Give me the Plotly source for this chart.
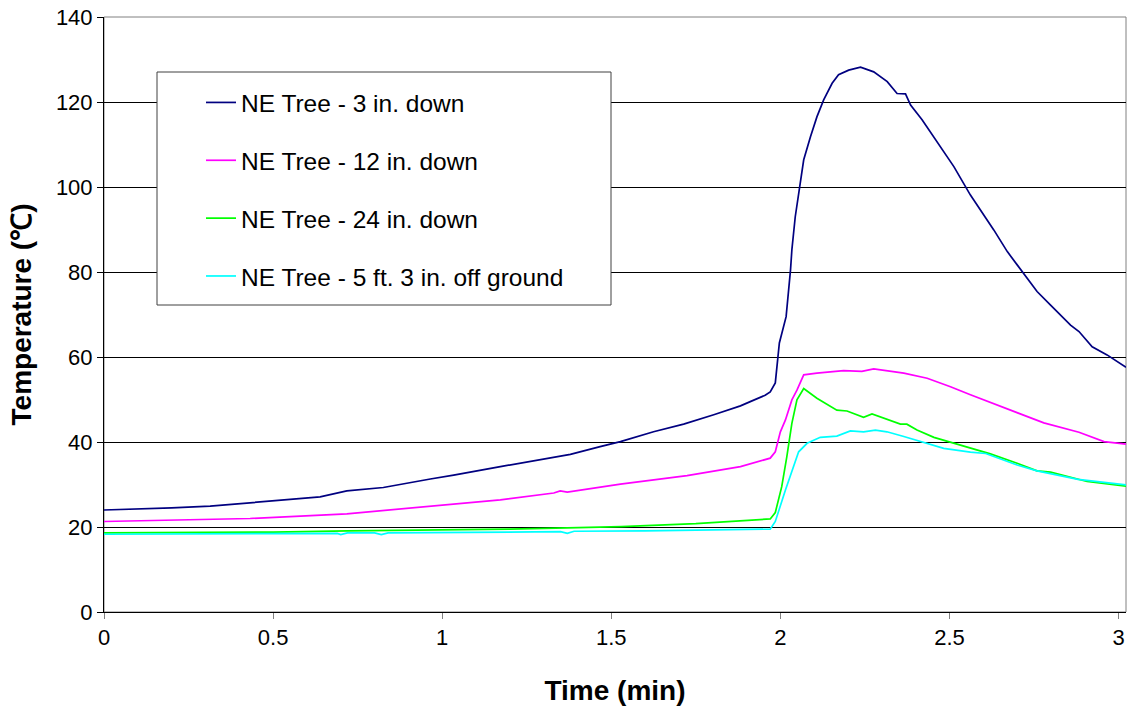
import plotly.graph_objects as go

# ---- data ----
t_3in = [0, 0.10, 0.2, 0.314, 0.4, 0.5, 0.639, 0.718, 0.826, 0.965, 1.034, 1.172, 1.31, 1.379,
         1.467, 1.527, 1.625, 1.714, 1.803, 1.882, 1.911, 1.955, 1.970, 1.985, 1.997, 2.017,
         2.03, 2.034, 2.044, 2.057, 2.069, 2.089, 2.108, 2.128, 2.153, 2.172, 2.202, 2.237,
         2.276, 2.316, 2.345, 2.37, 2.385, 2.419, 2.454, 2.493, 2.513, 2.562, 2.631, 2.671,
         2.715, 2.759, 2.799, 2.858, 2.883, 2.922, 2.966, 3.022]
v_3in = [24.0, 24.2, 24.5, 24.9, 25.5, 26.2, 27.1, 28.5, 29.3, 31.3, 32.2, 34.2, 36.2, 37.1,
         38.9, 40.1, 42.4, 44.2, 46.4, 48.5, 49.5, 51.0, 51.8, 53.9, 63.3, 69.5,
         80.5, 85.2, 93.0, 100.0, 106.4, 111.8, 116.5, 120.5, 124.4, 126.4, 127.5, 128.2,
         127.1, 124.8, 122.0, 121.9, 119.3, 115.8, 111.8, 107.1, 104.8, 98.1, 89.9, 84.8,
         80.1, 75.4, 72.2, 67.5, 66.0, 62.4, 60.5, 57.6]

t_12in = [0, 0.2, 0.432, 0.718, 0.965, 1.172, 1.33, 1.349, 1.37, 1.527, 1.724, 1.882, 1.97,
          1.985, 2.0, 2.015, 2.034, 2.049, 2.069, 2.108, 2.187, 2.241, 2.276, 2.365, 2.434,
          2.503, 2.562, 2.601, 2.70, 2.779, 2.883, 2.957, 3.022]
v_12in = [21.3, 21.6, 22.0, 23.1, 24.8, 26.4, 28.0, 28.5, 28.2, 30.1, 32.1, 34.2, 36.2,
          37.7, 42.4, 45.2, 49.9, 52.2, 55.8, 56.2, 56.8, 56.6, 57.2, 56.2, 55.0,
          53.0, 51.1, 49.9, 46.8, 44.5, 42.3, 40.1, 39.5]

t_24in = [0, 0.5, 0.72, 1.0, 1.2, 1.37, 1.53, 1.75, 1.911, 1.97, 1.985, 2.004, 2.019, 2.034,
          2.049, 2.069, 2.108, 2.167, 2.197, 2.246, 2.271, 2.315, 2.355, 2.374, 2.404, 2.454,
          2.513, 2.562, 2.621, 2.70, 2.759, 2.799, 2.883, 2.907, 3.022]
v_24in = [18.6, 18.8, 19.1, 19.3, 19.5, 19.8, 20.1, 20.8, 21.5, 21.9, 23.4, 29.5, 36.5, 44.4,
          49.9, 52.6, 50.3, 47.5, 47.3, 45.8, 46.6, 45.3, 44.2, 44.2, 42.8, 41.1,
          39.7, 38.5, 37.2, 35.0, 33.2, 32.9, 31.3, 30.7, 29.6]

t_5ft = [0, 0.5, 0.69, 0.70, 0.72, 0.80, 0.82, 0.84, 1.0, 1.2, 1.35, 1.37, 1.39, 1.6, 1.8,
         1.97, 1.985, 2.015, 2.054, 2.079, 2.118, 2.167, 2.207, 2.246, 2.281, 2.315, 2.365,
         2.414, 2.483, 2.562, 2.607, 2.70, 2.759, 2.880, 3.022]
v_5ft = [18.3, 18.4, 18.5, 18.2, 18.6, 18.6, 18.2, 18.6, 18.7, 18.8, 18.9, 18.5, 19.0, 19.1, 19.3,
         19.5, 21.3, 28.7, 37.7, 39.7, 41.1, 41.4, 42.6, 42.4, 42.8, 42.4, 41.3,
         40.1, 38.5, 37.6, 37.3, 34.6, 33.2, 31.2, 29.9]

series_names = ["NE Tree - 3 in. down", "NE Tree - 12 in. down",
                "NE Tree - 24 in. down", "NE Tree - 5 ft. 3 in. off ground"]
series_colors = ["#000080", "#FF00FF", "#00FF00", "#00FFFF"]

x_ticks = [0, 0.5, 1, 1.5, 2, 2.5, 3]
x_tick_labels = ["0", "0.5", "1", "1.5", "2", "2.5", "3"]
y_ticks = [0, 20, 40, 60, 80, 100, 120, 140]

FONT = "Liberation Sans, Arial, sans-serif"

fig = go.Figure()
for i, (tx, vy) in enumerate([(t_3in, v_3in), (t_12in, v_12in), (t_24in, v_24in), (t_5ft, v_5ft)]):
    fig.add_trace(go.Scatter(
        x=tx, y=vy, mode="lines", name=series_names[i],
        line=dict(color=series_colors[i], width=1.7),
        legendgroup=f"g{i}",
    ))

# plot area in the page: left 104, right 1126, top 17, bottom 612
PL, PR, PT, PB = 104, 1126, 17, 612
PW, PH = PR - PL, PB - PT

# legend box (white, gray frame)
fig.add_shape(type="rect", xref="paper", yref="paper",
              x0=(157 - PL) / PW, x1=(611 - PL) / PW,
              y0=(PB - 305) / PH, y1=(PB - 72) / PH,
              line=dict(color="#404040", width=1), fillcolor="white", layer="above")
# plot-area frame (right side gray)
fig.add_shape(type="rect", xref="paper", yref="paper", x0=0, x1=1, y0=0, y1=1,
              line=dict(color="#808080", width=1), layer="below")

fig.update_layout(
    width=1130, height=707,
    margin=dict(l=PL, r=1130 - PR, t=PT, b=707 - PB, autoexpand=False),
    paper_bgcolor="white", plot_bgcolor="white",
    font=dict(family=FONT, color="black", size=22),
    showlegend=True,
    legend=dict(
        x=(201 - PL) / PW, y=(PB - 80) / PH, xanchor="left", yanchor="top",
        bgcolor="rgba(0,0,0,0)", borderwidth=0,
        font=dict(family=FONT, size=24.5, color="black"),
        tracegroupgap=23, itemwidth=30,
    ),
    xaxis=dict(
        range=[0, 3.022], tickvals=x_ticks, ticktext=x_tick_labels,
        showgrid=False, zeroline=False, automargin=False,
        showline=True, linecolor="black", linewidth=1,
        ticks="outside", ticklen=6, tickcolor="#808080", tickwidth=1,
        ticklabeloverflow="allow",
        tickfont=dict(family=FONT, size=22, color="black"),
        title=dict(text="<b>Time (min)</b>", font=dict(family=FONT, size=28, color="black"), standoff=30),
    ),
    yaxis=dict(
        range=[0, 140], tickvals=y_ticks,
        showgrid=True, gridcolor="black", gridwidth=1, zeroline=False, automargin=False,
        showline=True, linecolor="black", linewidth=1,
        ticks="outside", ticklen=6, tickcolor="black", tickwidth=1,
        ticklabeloverflow="allow",
        tickfont=dict(family=FONT, size=22, color="black"),
        title=dict(text="<b>Temperature (℃)</b>", font=dict(family=FONT, size=28, color="black"), standoff=16),
    ),
)

fig.write_html("out.html", config={"displayModeBar": False},
               post_script="document.body.style.margin='0';document.body.style.overflow='hidden';")
